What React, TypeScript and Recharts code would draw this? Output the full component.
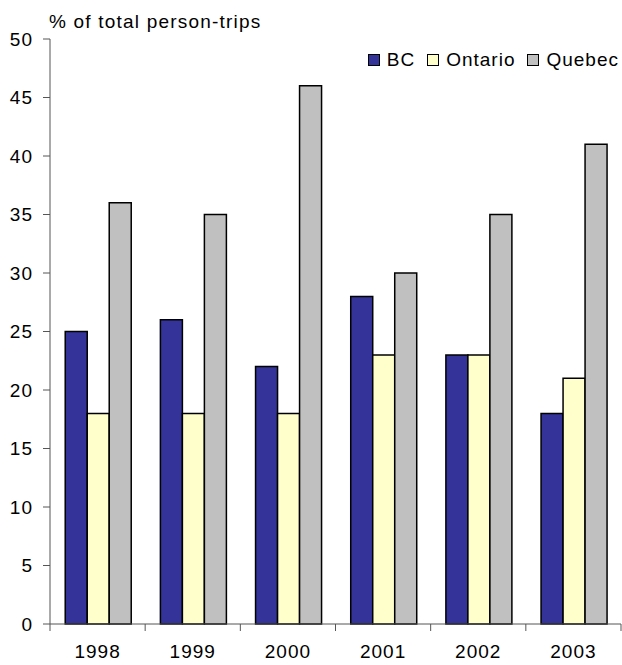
import React from 'react';
import { BarChart, Bar, XAxis, YAxis } from 'recharts';

const years = ['1998', '1999', '2000', '2001', '2002', '2003'];
const bc = [25, 26, 22, 28, 23, 18];
const ontario = [18, 18, 18, 23, 23, 21];
const quebec = [36, 35, 46, 30, 35, 41];
const yTicks = [0, 5, 10, 15, 20, 25, 30, 35, 40, 45, 50];

const series = [
  { key: 'BC', color: '#333399' },
  { key: 'Ontario', color: '#FFFFCC' },
  { key: 'Quebec', color: '#C0C0C0' },
];

const data = years.map((year, i) => ({
  year,
  BC: bc[i],
  Ontario: ontario[i],
  Quebec: quebec[i],
}));

const font = '"Liberation Sans", Arial, sans-serif';
const axisColor = '#555';

// year labels, with tick marks drawn at the category boundaries
const YearTick = (props: any) => {
  const { x, y, payload, index, visibleTicksCount } = props;
  const half = payload.offset || 0;
  const last = index === visibleTicksCount - 1;
  return (
    <g>
      <line x1={x - half} x2={x - half} y1={y} y2={y + 7} stroke={axisColor} />
      {last && <line x1={x + half} x2={x + half} y1={y} y2={y + 7} stroke={axisColor} />}
      <text
        x={x}
        y={y + 21}
        dy="0.71em"
        textAnchor="middle"
        fontSize={19}
        letterSpacing={1}
        fontFamily={font}
        fill="#000"
      >
        {payload.value}
      </text>
    </g>
  );
};

const legendBox = (
  <div
    style={{
      position: 'absolute',
      right: 3,
      top: 50,
      display: 'flex',
      fontFamily: font,
      fontSize: 19,
      letterSpacing: 1,
      lineHeight: '20px',
      color: '#000',
    }}
  >
    {series.map((s, i) => (
      <div key={s.key} style={{ display: 'flex', alignItems: 'center', marginLeft: i === 0 ? 0 : 12 }}>
        <span
          style={{
            display: 'inline-block',
            width: 10,
            height: 10,
            background: s.color,
            border: '1.5px solid #000',
            marginRight: 7,
          }}
        />
        <span>{s.key}</span>
      </div>
    ))}
  </div>
);

export default function App() {
  return (
    <div style={{ position: 'absolute', left: 0, top: 0, width: 622, height: 665, background: '#fff' }}>
      <div
        style={{
          position: 'absolute',
          left: 49,
          top: 12,
          fontFamily: font,
          fontSize: 19,
          letterSpacing: 1.2,
          color: '#000',
          lineHeight: '20px',
          whiteSpace: 'nowrap',
        }}
      >
        % of total person-trips
      </div>
      {legendBox}
      <BarChart
        width={622}
        height={665}
        data={data}
        margin={{ top: 39, right: 1, left: 0, bottom: 0 }}
        barCategoryGap="16%"
        barGap={0}
      >
        <XAxis
          dataKey="year"
          height={41}
          axisLine={{ stroke: axisColor }}
          tickLine={false}
          tickSize={0}
          tickMargin={0}
          tick={<YearTick />}
          interval={0}
        />
        <YAxis
          width={50}
          domain={[0, 50]}
          ticks={yTicks}
          interval={0}
          tickSize={7}
          tickMargin={10}
          tick={{ fontSize: 19, fill: '#000', fontFamily: font, letterSpacing: 1 }}
          axisLine={{ stroke: axisColor }}
          tickLine={{ stroke: axisColor }}
        />
        {series.map(s => (
          <Bar
            key={s.key}
            dataKey={s.key}
            fill={s.color}
            stroke="#000"
            strokeWidth={1.5}
            isAnimationActive={false}
          />
        ))}
      </BarChart>
    </div>
  );
}
